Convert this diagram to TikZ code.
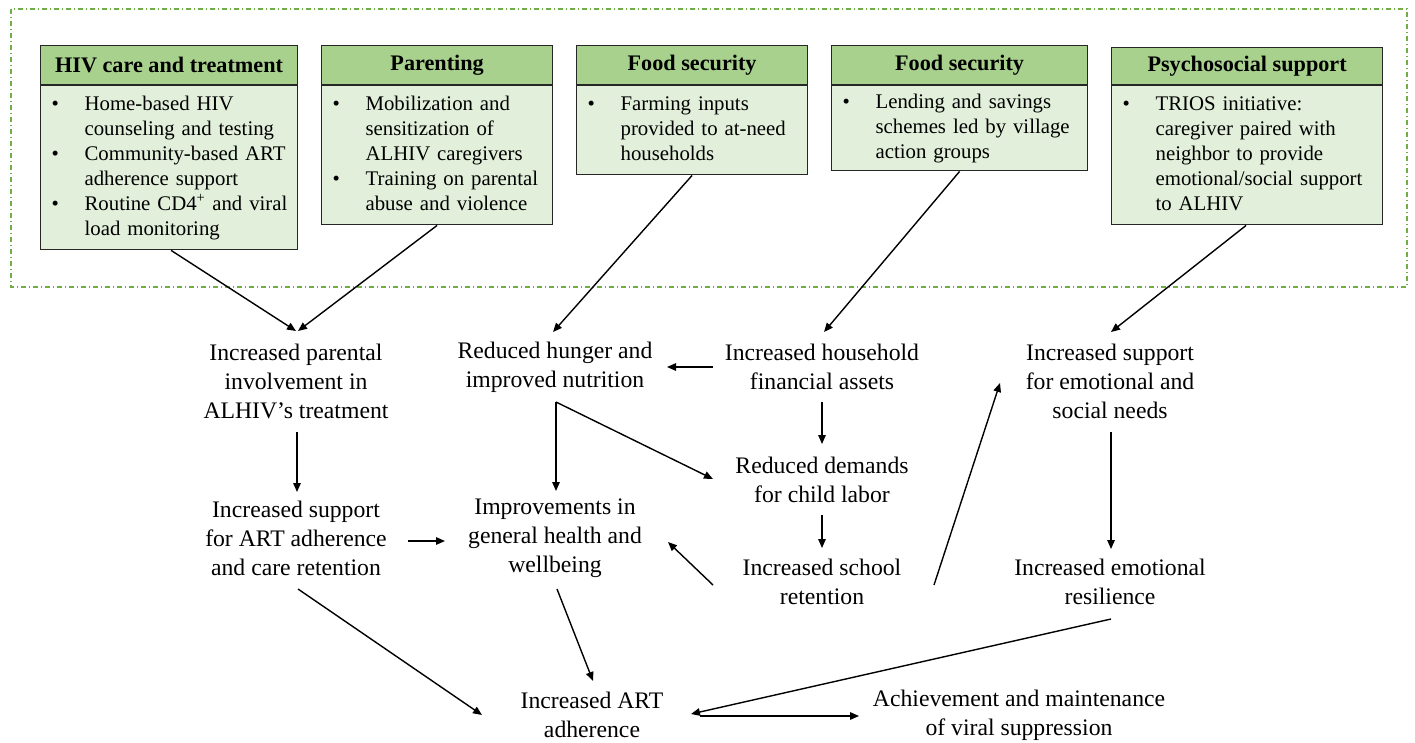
\documentclass[tikz,border=0pt]{standalone}
\usepackage{fontspec}
\setmainfont{Liberation Serif}
\usetikzlibrary{arrows.meta,calc}

\definecolor{headgreen}{HTML}{A9D18E}
\definecolor{bodygreen}{HTML}{E2EFDA}
\definecolor{framegreen}{HTML}{70AD47}
\definecolor{boxline}{HTML}{262626}

\newcommand{\flowfont}{\fontsize{23.7}{29}\selectfont}
\newcommand{\headfont}{\fontsize{22.2}{26}\selectfont\bfseries}
\newcommand{\itemfont}{\fontsize{20.8}{25}\selectfont}

\tikzset{
  headbox/.style={draw=boxline, line width=1.2pt, fill=headgreen, anchor=north west,
    minimum height=39, inner sep=0, font=\headfont},
  bodybox/.style={draw=boxline, line width=1.2pt, fill=bodygreen, anchor=north west,
    inner xsep=11, inner ysep=7, align=left, font=\itemfont},
  flow/.style={align=center, inner sep=0, font=\flowfont},
  arr/.style={line width=1.4pt, -{Triangle[length=9pt,width=7.5pt]}},
}

\begin{document}
\begin{tikzpicture}[x=1pt, y=-1pt]
\useasboundingbox (0,0) rectangle (1415,742);

% frame around the programme components
\draw[framegreen, line width=1.2pt, dash pattern=on 5pt off 3pt on 1pt off 3pt]
  (11,9) rectangle (1407,287);

% programme components
\node[headbox, minimum width=257] (h1) at (40,45) {HIV care and treatment};
\node[bodybox, text width=235] (b1) at (h1.south west) {%
  \begin{tabular}{@{}p{33pt}@{}l@{}}
  \textbullet & Home-based HIV\\
              & counseling and testing\\
  \textbullet & Community-based ART\\
              & adherence support\\
  \textbullet & Routine CD4\textsuperscript{+} and viral\\
              & load monitoring
  \end{tabular}};

\node[headbox, minimum width=231] (h2) at (321,45) {Parenting};
\node[bodybox, text width=209] (b2) at (h2.south west) {%
  \begin{tabular}{@{}p{33pt}@{}l@{}}
  \textbullet & Mobilization and\\
              & sensitization of\\
              & ALHIV caregivers\\
  \textbullet & Training on parental\\
              & abuse and violence
  \end{tabular}};

\node[headbox, minimum width=231] (h3) at (576,45) {Food security};
\node[bodybox, text width=209] (b3) at (h3.south west) {%
  \begin{tabular}{@{}p{33pt}@{}l@{}}
  \textbullet & Farming inputs\\
              & provided to at-need\\
              & households
  \end{tabular}};

\node[headbox, minimum width=256] (h4) at (831,45) {Food security};
\node[bodybox, text width=234, inner ysep=5] (b4) at (h4.south west) {%
  \begin{tabular}{@{}p{33pt}@{}l@{}}
  \textbullet & Lending and savings\\
              & schemes led by village\\
              & action groups
  \end{tabular}};

\node[headbox, minimum width=271, minimum height=37] (h5) at (1111,47) {Psychosocial support};
\node[bodybox, text width=249] (b5) at (h5.south west) {%
  \begin{tabular}{@{}p{33pt}@{}l@{}}
  \textbullet & TRIOS initiative:\\
              & caregiver paired with\\
              & neighbor to provide\\
              & emotional/social support\\
              & to ALHIV
  \end{tabular}};

% outcomes
\node[flow] (P) at (296,381) {Increased parental\\involvement in\\ALHIV’s treatment};
\node[flow] (H) at (555,367) {Reduced hunger and\\improved nutrition};
\node[flow] (F) at (822,367) {Increased household\\financial assets};
\node[flow] (E) at (1110,381) {Increased support\\for emotional and\\social needs};
\node[flow] (D) at (822,480) {Reduced demands\\for child labor};
\node[flow] (S) at (296,538) {Increased support\\for ART adherence\\and care retention};
\node[flow] (I) at (555,538) {Improvements in\\general health and\\wellbeing};
\node[flow] (C) at (822,582) {Increased school\\retention};
\node[flow] (R) at (1110,582) {Increased emotional\\resilience};
\node[flow] (A) at (592,715) {Increased ART\\adherence};
\node[flow] (V) at (1019,715) {Achievement and maintenance\\of viral suppression};

% links from components to outcomes
\draw[arr] ($(b1.south)+(2,0)$) -- ($(P)+(0,-50)$);
\draw[arr] (b2.south) -- ($(P)+(2,-50)$);
\draw[arr] (b3.south) -- ($(H)+(-2,-35)$);
\draw[arr] (b4.south) -- ($(F)+(2,-35)$);
\draw[arr] ($(b5.south)+(-1,0)$) -- ($(E)+(1,-49)$);

% links between outcomes
\draw[arr] ($(F)+(-109,0)$) -- ($(H)+(112,0)$);
\draw[arr] ($(F)+(0,35)$) -- ($(D)+(0,-36)$);
\draw[arr] ($(H)+(1,35)$) -- ($(I)+(1,-47)$);
\draw[arr] ($(H)+(1,35)$) -- ($(D)+(-109,-1)$);
\draw[arr] ($(P)+(1,51)$) -- ($(S)+(1,-46)$);
\draw[arr] ($(S)+(112,3)$) -- ($(I)+(-110,3)$);
\draw[arr] ($(D)+(0,35)$) -- ($(C)+(0,-34)$);
\draw[arr] ($(C)+(-109,3)$) -- ($(I)+(113,4)$);
\draw[arr] ($(C)+(112,3)$) -- ($(E)+(-110,2)$);
\draw[arr] ($(E)+(1,51)$) -- ($(R)+(1,-33)$);
\draw[arr] ($(S)+(2,51)$) -- ($(A)+(-110,0)$);
\draw[arr] ($(I)+(2,51)$) -- ($(A)+(1,-34)$);
\draw[arr] ($(R)+(1,37)$) -- ($(A)+(99,-1)$);
\draw[arr] ($(A)+(108,1)$) -- ($(V)+(-160,1)$);
\end{tikzpicture}
\end{document}
